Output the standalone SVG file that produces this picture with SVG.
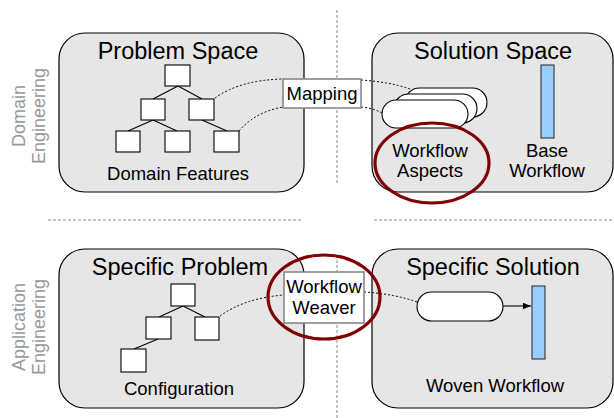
<svg xmlns="http://www.w3.org/2000/svg" width="614" height="418" viewBox="0 0 614 418">
  <style>
    text { font-family: "Liberation Sans", Arial, sans-serif; fill: #000; }
    .title { font-size: 23.5px; text-anchor: middle; }
    .label { font-size: 18.5px; text-anchor: middle; }
    .side { font-size: 18px; text-anchor: middle; fill: #999; }
    .panel { fill: #e6e6e6; stroke: #000; stroke-width: 1.2; }
    .feat { fill: #fff; stroke: #000; stroke-width: 1.1; }
    .edge { stroke: #000; stroke-width: 1.1; fill: none; }
    .dot { stroke: #000; stroke-width: 1; stroke-dasharray: 2 2; fill: none; }
    .sep { stroke: #888; stroke-width: 1; stroke-dasharray: 3 2; fill: none; }
    .tool { fill: #fff; stroke: #888; stroke-width: 1.6; }
    .aspect { fill: #fff; stroke: #000; stroke-width: 1.1; }
    .flow { fill: #99ccff; stroke: #333; stroke-width: 1.1; }
    .mark { fill: none; stroke: #800000; stroke-width: 3.2; }
  </style>
  <defs>
    <marker id="arrow" viewBox="0 0 10 10" refX="10" refY="5" markerWidth="8" markerHeight="8" markerUnits="userSpaceOnUse" orient="auto">
      <path d="M0,1 L10,5 L0,9 z" fill="#000"/>
    </marker>
  </defs>

  <!-- separators between engineering levels and spaces -->
  <g id="separators">
    <line class="sep" x1="337" y1="10" x2="337" y2="183"/>
    <line class="sep" x1="337" y1="255" x2="337" y2="418"/>
    <line class="sep" x1="48" y1="220" x2="303" y2="220"/>
    <line class="sep" x1="374" y1="220" x2="614" y2="220"/>
  </g>

  <!-- row labels -->
  <g id="domain-engineering">
    <text class="side" transform="translate(25,116) rotate(-90)">Domain</text>
    <text class="side" transform="translate(45,116) rotate(-90)">Engineering</text>
  </g>
  <g id="application-engineering">
    <text class="side" transform="translate(25,327) rotate(-90)">Application</text>
    <text class="side" transform="translate(45,327) rotate(-90)">Engineering</text>
  </g>

  <!-- Problem Space -->
  <g id="problem-space">
    <rect class="panel" x="59" y="33" width="245" height="159" rx="26"/>
    <text class="title" x="178" y="59">Problem Space</text>
    <g id="feature-tree">
      <path class="edge" d="M178,86 L153,99 M178,86 L202,99 M153,120 L128,131 M153,120 L177,131 M202,120 L227,131"/>
      <rect class="feat" x="165" y="65" width="25" height="21"/>
      <rect class="feat" x="141" y="99" width="24" height="21"/>
      <rect class="feat" x="189" y="99" width="25" height="21"/>
      <rect class="feat" x="116" y="131" width="24" height="21"/>
      <rect class="feat" x="165" y="131" width="25" height="21"/>
      <rect class="feat" x="214" y="131" width="25" height="21"/>
    </g>
    <text class="label" x="178" y="180">Domain Features</text>
  </g>

  <!-- Solution Space -->
  <g id="solution-space">
    <rect class="panel" x="372" y="33" width="241" height="159" rx="26"/>
    <text class="title" x="493" y="59">Solution Space</text>
    <g id="workflow-aspects">
      <rect class="aspect" x="405" y="88" width="82" height="29" rx="14.5"/>
      <rect class="aspect" x="394" y="94" width="83" height="29" rx="14.5"/>
      <rect class="aspect" x="382" y="100" width="86" height="28" rx="14"/>
    </g>
    <text class="label" x="430" y="157">Workflow</text>
    <text class="label" x="430" y="177">Aspects</text>
    <rect class="flow" x="541" y="65" width="13" height="73"/>
    <text class="label" x="547" y="157">Base</text>
    <text class="label" x="547" y="177">Workflow</text>
  </g>

  <!-- Specific Problem -->
  <g id="specific-problem">
    <rect class="panel" x="59" y="249" width="245" height="159" rx="26"/>
    <text class="title" x="180" y="275">Specific Problem</text>
    <g id="configuration-tree">
      <path class="edge" d="M183,306 L159,317 M183,306 L205,317 M158,339 L134,349"/>
      <rect class="feat" x="171" y="284" width="24" height="22"/>
      <rect class="feat" x="146" y="317" width="25" height="22"/>
      <rect class="feat" x="195" y="317" width="24" height="23"/>
      <rect class="feat" x="121" y="349" width="25" height="23"/>
    </g>
    <text class="label" x="179" y="395">Configuration</text>
  </g>

  <!-- Specific Solution -->
  <g id="specific-solution">
    <rect class="panel" x="372" y="249" width="241" height="159" rx="26"/>
    <text class="title" x="493" y="275">Specific Solution</text>
    <rect class="aspect" x="417" y="292" width="86" height="29" rx="14.5"/>
    <rect class="flow" x="532" y="286" width="13" height="73"/>
    <text class="label" x="495" y="392">Woven Workflow</text>
  </g>

  <!-- connectors -->
  <g id="connectors">
    <path class="dot" d="M215,98 Q240,80 283,79"/>
    <path class="dot" d="M361,80 Q390,82 410,89"/>
    <path class="dot" d="M239,131 Q255,112 283,107"/>
    <path class="dot" d="M361,107 Q373,108 382,113"/>
    <path class="dot" d="M220,316 Q245,298 284,295"/>
    <path class="dot" d="M364,292 Q395,294 417,302"/>
    <line class="edge" x1="503" y1="306" x2="531" y2="306" marker-end="url(#arrow)"/>
  </g>

  <!-- Mapping -->
  <g id="mapping">
    <rect class="tool" x="283" y="79" width="78" height="29"/>
    <text class="label" x="322" y="100">Mapping</text>
  </g>

  <!-- Workflow Weaver -->
  <g id="workflow-weaver">
    <rect class="tool" x="284" y="272" width="80" height="51"/>
    <text class="label" x="324" y="293">Workflow</text>
    <text class="label" x="324" y="314">Weaver</text>
  </g>

  <!-- highlights -->
  <g id="highlights">
    <ellipse class="mark" cx="432" cy="163" rx="57" ry="40"/>
    <ellipse class="mark" cx="324" cy="297" rx="56" ry="42"/>
  </g>
</svg>
